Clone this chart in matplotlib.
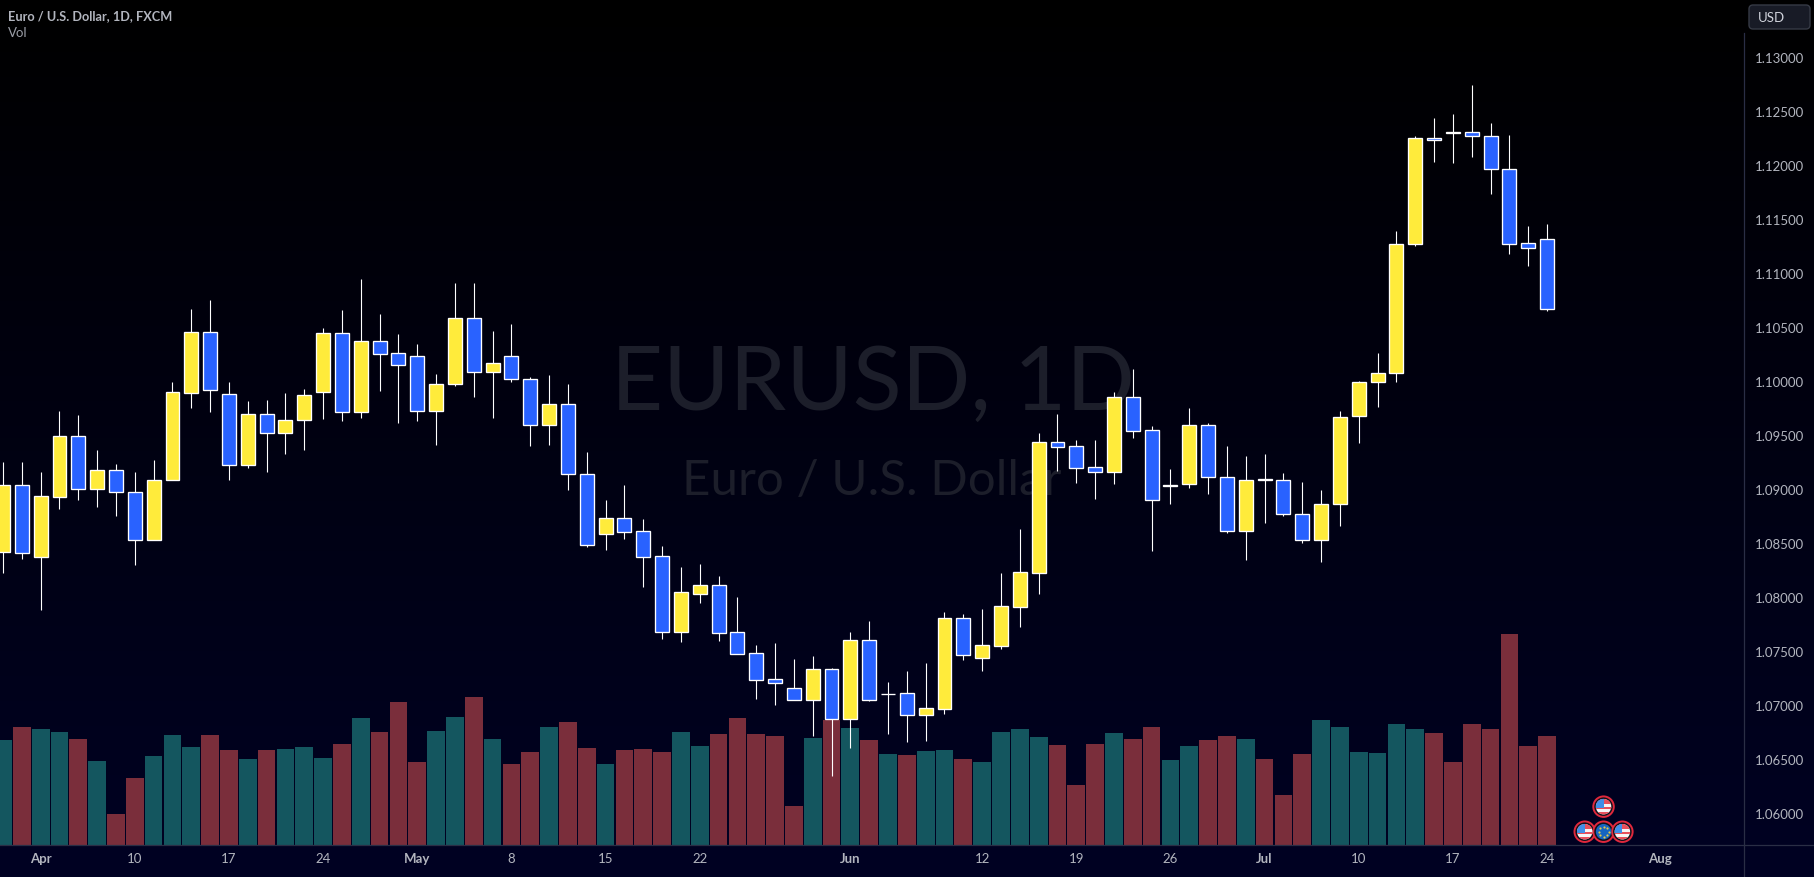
import matplotlib
matplotlib.use("Agg")
import matplotlib.pyplot as plt
import numpy as np
from matplotlib.lines import Line2D
from matplotlib.patches import Ellipse, FancyBboxPatch, Rectangle

plt.rcParams["font.family"] = ["Lato", "DejaVu Sans"]

opens = [1.08429, 1.09043, 1.08383, 1.08938, 1.09497, 1.09012, 1.09182, 1.08978, 1.08534, 1.09089,
         1.09901, 1.10459, 1.09886, 1.09228, 1.09700, 1.09531, 1.09645, 1.09904, 1.10450, 1.09719,
         1.10376, 1.10265, 1.10237, 1.09728, 1.09978, 1.10589, 1.10089, 1.10237, 1.10024, 1.09598,
         1.09793, 1.09145, 1.08596, 1.08738, 1.08617, 1.08386, 1.07688, 1.08040, 1.08118, 1.07682,
         1.07488, 1.07247, 1.07164, 1.07059, 1.07340, 1.06883, 1.07609, 1.07109, 1.07118, 1.06920,
         1.06976, 1.07812, 1.07448, 1.07559, 1.07920, 1.08235, 1.09441, 1.09404, 1.09210, 1.09170,
         1.09858, 1.09553, 1.09040, 1.09053, 1.09599, 1.09118, 1.08618, 1.09099, 1.09090, 1.08775,
         1.08534, 1.08868, 1.09689, 1.09997, 1.10081, 1.11275, 1.12257, 1.12315, 1.12312, 1.12275,
         1.11969, 1.11284, 1.11321]
highs = [1.09259, 1.09259, 1.09166, 1.09731, 1.09694, 1.09370, 1.09241, 1.09166, 1.09278, 1.10000,
         1.10676, 1.10759, 1.10000, 1.09824, 1.09833, 1.09898, 1.09935, 1.10500, 1.10666, 1.10953,
         1.10629, 1.10444, 1.10351, 1.10074, 1.10916, 1.10916, 1.10472, 1.10537, 1.10046, 1.10064,
         1.09981, 1.09352, 1.08908, 1.09047, 1.08732, 1.08482, 1.08287, 1.08315, 1.08204, 1.08010,
         1.07565, 1.07584, 1.07436, 1.07463, 1.07352, 1.07686, 1.07787, 1.07223, 1.07324, 1.07399,
         1.07871, 1.07852, 1.07898, 1.08232, 1.08639, 1.09528, 1.09704, 1.09463, 1.09463, 1.09907,
         1.10120, 1.09593, 1.09195, 1.09759, 1.09621, 1.09408, 1.09315, 1.09334, 1.09158, 1.09074,
         1.09000, 1.09732, 1.10009, 1.10269, 1.11398, 1.12278, 1.12445, 1.12481, 1.12750, 1.12398,
         1.12287, 1.11444, 1.11463]
lows = [1.08231, 1.08364, 1.07889, 1.08827, 1.08910, 1.08845, 1.08762, 1.08309, 1.08534, 1.09089,
        1.09759, 1.09722, 1.09092, 1.09207, 1.09166, 1.09333, 1.09370, 1.09657, 1.09639, 1.09666,
        1.09916, 1.09620, 1.09639, 1.09416, 1.09963, 1.09861, 1.09666, 1.10000, 1.09407, 1.09416,
        1.09000, 1.08472, 1.08445, 1.08547, 1.08102, 1.07621, 1.07593, 1.07954, 1.07602, 1.07485,
        1.07065, 1.07010, 1.07059, 1.06723, 1.06352, 1.06612, 1.07047, 1.06741, 1.06667, 1.06676,
        1.06926, 1.07426, 1.07324, 1.07528, 1.07732, 1.08037, 1.09176, 1.09065, 1.08917, 1.09056,
        1.09482, 1.08436, 1.08871, 1.09022, 1.08966, 1.08602, 1.08352, 1.08695, 1.08760, 1.08510,
        1.08334, 1.08667, 1.09435, 1.09769, 1.10000, 1.11260, 1.12037, 1.12028, 1.12083, 1.11741,
        1.11185, 1.11074, 1.10661]
closes = [1.09043, 1.08420, 1.08941, 1.09497, 1.09012, 1.09182, 1.08978, 1.08534, 1.09089, 1.09904,
          1.10459, 1.09923, 1.09228, 1.09700, 1.09531, 1.09645, 1.09876, 1.10450, 1.09719, 1.10376,
          1.10262, 1.10160, 1.09728, 1.09978, 1.10589, 1.10089, 1.10172, 1.10024, 1.09598, 1.09793,
          1.09145, 1.08487, 1.08738, 1.08615, 1.08383, 1.07688, 1.08053, 1.08118, 1.07679, 1.07485,
          1.07244, 1.07217, 1.07059, 1.07340, 1.06883, 1.07609, 1.07059, 1.07115, 1.06920, 1.06979,
          1.07812, 1.07476, 1.07562, 1.07923, 1.08238, 1.09441, 1.09401, 1.09207, 1.09170, 1.09858,
          1.09550, 1.08911, 1.09049, 1.09599, 1.09118, 1.08618, 1.09090, 1.09090, 1.08775, 1.08534,
          1.08868, 1.09673, 1.09997, 1.10080, 1.11275, 1.12257, 1.12244, 1.12309, 1.12275, 1.11969,
          1.11281, 1.11238, 1.10679]
volumes = [105, 118, 116, 113, 106, 84, 31, 67, 89, 110,
           98, 110, 95, 86, 95, 96, 98, 87, 101, 127,
           113, 143, 83, 114, 128, 148, 106, 81, 93, 118,
           123, 97, 81, 95, 96, 93, 113, 99, 111, 127,
           111, 109, 39, 107, 125, 117, 105, 91, 90, 94,
           95, 86, 83, 113, 116, 108, 100, 60, 101, 112,
           106, 118, 85, 99, 105, 109, 106, 86, 50, 91,
           125, 118, 93, 92, 121, 116, 112, 83, 121, 116,
           211, 99, 109]

price_ticks = [1.06, 1.065, 1.07, 1.075, 1.08, 1.085, 1.09, 1.095,
               1.10, 1.105, 1.11, 1.115, 1.12, 1.125, 1.13]
date_ticks = [2, 7, 12, 17, 22, 27, 32, 37, 45, 52, 57, 62, 67, 72, 77, 82, 88]
date_labels = ["Apr", "10", "17", "24", "May", "8", "15", "22", "Jun",
               "12", "19", "26", "Jul", "10", "17", "24", "Aug"]
month_labels = ["Apr", "May", "Jun", "Jul", "Aug"]

event_bars = [85, 84, 85, 86]
event_prices = [1.06068, 1.05836, 1.05836, 1.05836]
event_kinds = ["us", "us", "eu", "us"]

W, H = 1815, 877
AXIS_X, AXIS_Y, TOP_Y = 1744, 845, 33
BAR_PX = 18.83
PRICE_PX = 10800
TEXT = "#B2B5BE"
LINE = "#2A2E45"


def draw_flag(ax, x, y, kind):
    sx, sy = 1 / BAR_PX, 1 / PRICE_PX
    ax.add_patch(Ellipse((x, y), 20.5 * sx, 20.5 * sy, fc="#10121c", ec="#E0283C", lw=1.4, zorder=6))
    clip = Ellipse((x, y), 15.5 * sx, 15.5 * sy, fc="#1565C0" if kind == "eu" else "#F5F5F5", ec="none", zorder=7)
    ax.add_patch(clip)
    if kind == "eu":
        a = np.linspace(0, 2 * np.pi, 8, endpoint=False)
        ax.scatter(x + 5 * sx * np.cos(a), y + 5 * sy * np.sin(a), s=2.5, c="#E3C84A", lw=0, zorder=8)
        return
    parts = [(-8, 2.5, 16, 5.5, "#E8505B"), (-8, -2.5, 16, 2.5, "#E8505B"), (-8, -8, 16, 2.5, "#E8505B"),
             (-8, -1, 8, 9, "#3F8FE8")]
    for px, py, pw, ph, c in parts:
        r = Rectangle((x + px * sx, y + py * sy), pw * sx, ph * sy, fc=c, ec="none", zorder=8)
        ax.add_patch(r)
        r.set_clip_path(clip)


fig = plt.figure(figsize=(W / 100, H / 100), dpi=100)

# background, watermark and the labels that sit outside the scales
bg = fig.add_axes([0, 0, 1, 1])
grad = np.zeros((256, 1, 3))
grad[:, 0, 1] = np.linspace(0, 2, 256) / 255
grad[:, 0, 2] = np.linspace(0, 35, 256) / 255
bg.imshow(grad, extent=(0, W, H, 0), aspect="auto", interpolation="bilinear")
bg.set_xlim(0, W)
bg.set_ylim(H, 0)
bg.axis("off")
bg.text(873, 410, "EURUSD, 1D", fontsize=65, color="#1C1E2A", ha="center", va="baseline")
bg.text(872, 495, "Euro / U.S. Dollar", fontsize=35.5, color="#1C1E2A", ha="center", va="baseline")
bg.text(8, 16.5, "Euro / U.S. Dollar, 1D, FXCM", fontsize=9.2, color=TEXT, fontweight="bold", va="center")
bg.text(8, 33, "Vol", fontsize=9.5, color="#9A9DA6", va="center")
bg.add_patch(FancyBboxPatch((1749, 5), 61, 24, boxstyle="round,pad=0,rounding_size=4",
                            fc="#181B26", ec="#363A45", lw=1))
bg.text(1758, 17.5, "USD", fontsize=9.5, color="#D1D4DC", va="center")

pos = [0, (H - AXIS_Y) / H, AXIS_X / W, (AXIS_Y - TOP_Y) / H]
x = np.arange(len(opens))
xlim = (-3.0 / BAR_PX, (AXIS_X - 3.0) / BAR_PX)
up = np.array(closes) >= np.array(opens)

ax_vol = fig.add_axes(pos, facecolor="none")
ax_vol.bar(x, volumes, width=0.94, color=np.where(up, "#14565F", "#7A2E3B"), linewidth=0)
ax_vol.set_xlim(xlim)
ax_vol.set_ylim(0, AXIS_Y - TOP_Y)
ax_vol.axis("off")

ax = fig.add_axes(pos, facecolor="none")
ax.vlines(x, lows, highs, color="white", lw=0.8, zorder=3)
body = np.array(closes) - np.array(opens)
ax.bar(x, body, bottom=opens, width=0.74, color=np.where(up, "#FFEB3B", "#2962FF"),
       edgecolor="white", linewidth=0.95, zorder=4)
for bar_x, price, kind in zip(event_bars, event_prices, event_kinds):
    draw_flag(ax, bar_x, price, kind)

ax.set_xlim(xlim)
ax.set_ylim(1.13 - (AXIS_Y - 58) / PRICE_PX, 1.13 + (58 - TOP_Y) / PRICE_PX)
ax.yaxis.tick_right()
ax.set_yticks(price_ticks)
ax.set_yticklabels([f"{p:.5f}" for p in price_ticks], fontsize=9.5, color=TEXT)
ax.set_xticks(date_ticks)
ax.set_xticklabels(date_labels, fontsize=9.5, color=TEXT)
for label in ax.get_xticklabels():
    if label.get_text() in month_labels:
        label.set_fontweight("bold")
ax.tick_params(axis="y", length=0, pad=8)
ax.tick_params(axis="x", length=0, pad=6)
for spine in ax.spines.values():
    spine.set_visible(False)

fig.add_artist(Line2D([AXIS_X / W, AXIS_X / W], [0, 1 - TOP_Y / H], color=LINE, lw=0.9))
fig.add_artist(Line2D([0, 1], [1 - AXIS_Y / H, 1 - AXIS_Y / H], color=LINE, lw=0.9))

fig.savefig("out.png", dpi=100, facecolor="black")
plt.close(fig)
